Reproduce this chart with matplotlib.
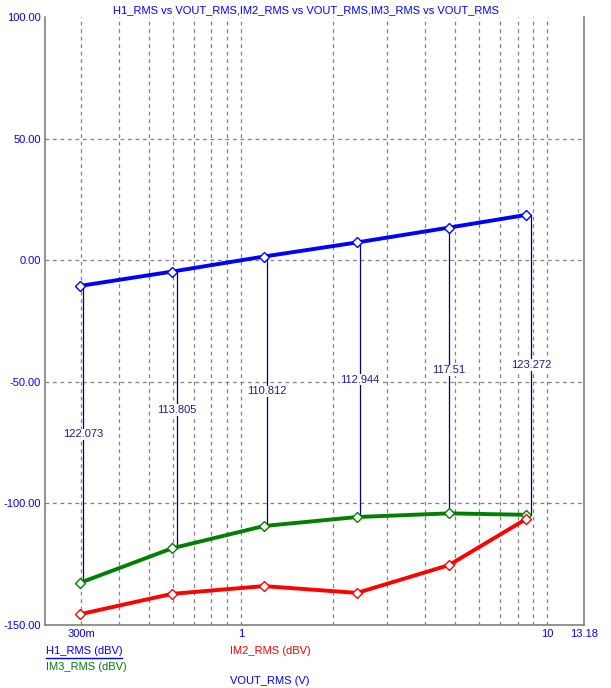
import matplotlib
matplotlib.use('Agg')
import matplotlib.pyplot as plt
from matplotlib.lines import Line2D

plt.rcParams['font.family'] = ['Liberation Sans', 'DejaVu Sans']

# Data
vout = [0.297, 0.594, 1.186, 2.39, 4.77, 8.51]
h1_rms = [-10.6, -4.7, 1.5, 7.3, 13.4, 18.6]
im3_rms = [-132.7, -118.5, -109.3, -105.6, -104.1, -104.7]
im2_rms = [-145.6, -137.2, -134.0, -136.8, -125.4, -106.5]

# Measurement cursors (H1 - IM3)
cursor_x = [0.3045, 0.6166, 1.216, 2.447, 4.78, 8.87]
cursor_labels = ['122.073', '113.805', '110.812', '112.944', '117.51', '123.272']

x_grid = [0.3, 0.4, 0.5, 0.6, 0.7, 0.8, 0.9, 1, 2, 3, 4, 5, 6, 7, 8, 9, 10]
x_ticks = [0.3, 1, 10, 13.18]
x_ticklabels = ['300m', '1', '10', '13.18']
y_ticks = [-150, -100, -50, 0, 50, 100]

BLUE = '#0000FF'
RED = '#FF0000'
GREEN = '#008000'
NAVY = '#000080'
GRAY = '#808080'

fig = plt.figure(figsize=(6.11, 6.88), dpi=100)
ax = fig.add_axes([45 / 611, 1 - 625 / 688, 539 / 611, 608 / 688])
ax.set_xscale('log')
ax.set_xlim(0.2288, 13.18)
ax.set_ylim(-150, 100)

# grid
for gx in x_grid:
    ax.axvline(gx, color=GRAY, lw=0.9, ls=(0, (3, 3)), zorder=0)
for gy in y_ticks[1:-1]:
    ax.axhline(gy, color=GRAY, lw=0.9, ls=(0, (3, 3)), zorder=0)

# cursors
for cx, top, bot, lab in zip(cursor_x, h1_rms, im3_rms, cursor_labels):
    ax.plot([cx, cx], [bot, top], color=NAVY, lw=0.9, zorder=2)
    ax.text(cx, (top + bot) / 2, lab, color='#1a1a9a', fontsize=8,
            ha='center', va='center', zorder=3,
            bbox=dict(facecolor='white', edgecolor='none', pad=0.5))

mk = dict(marker='D', markersize=5, markerfacecolor='white', markeredgewidth=1)
ax.plot(vout, h1_rms, color=BLUE, lw=2.8, markeredgecolor=BLUE, zorder=4, **mk)
ax.plot(vout, im3_rms, color=GREEN, lw=2.8, markeredgecolor=GREEN, zorder=4, **mk)
ax.plot(vout, im2_rms, color=RED, lw=2.8, markeredgecolor=RED, zorder=4, **mk)

ax.set_xticks(x_ticks)
ax.set_xticklabels(x_ticklabels)
ax.xaxis.set_minor_locator(matplotlib.ticker.NullLocator())
ax.set_yticks(y_ticks)
ax.set_yticklabels(['%.2f' % v for v in y_ticks])
ax.tick_params(length=0, labelsize=8, labelcolor=BLUE, pad=3)

for s in ['left', 'right', 'bottom']:
    ax.spines[s].set_color(GRAY)
    ax.spines[s].set_linewidth(1.2)
ax.spines['top'].set_visible(False)

fig.text(0.5, 1 - 10 / 688, 'H1_RMS vs VOUT_RMS,IM2_RMS vs VOUT_RMS,IM3_RMS vs VOUT_RMS',
         color=BLUE, fontsize=8, ha='center', va='center')

fig.text(46 / 611, 1 - 651 / 688, 'H1_RMS (dBV)', color=BLUE, fontsize=8, va='center')
fig.add_artist(Line2D([46 / 611, 122 / 611], [1 - 658 / 688, 1 - 658 / 688],
                      color=BLUE, lw=1))
fig.text(230 / 611, 1 - 651 / 688, 'IM2_RMS (dBV)', color=RED, fontsize=8, va='center')
fig.text(46 / 611, 1 - 667 / 688, 'IM3_RMS (dBV)', color=GREEN, fontsize=8, va='center')
fig.text(230 / 611, 1 - 681 / 688, 'VOUT_RMS (V)', color=BLUE, fontsize=8, va='center')

fig.savefig('out.png', dpi=100)
